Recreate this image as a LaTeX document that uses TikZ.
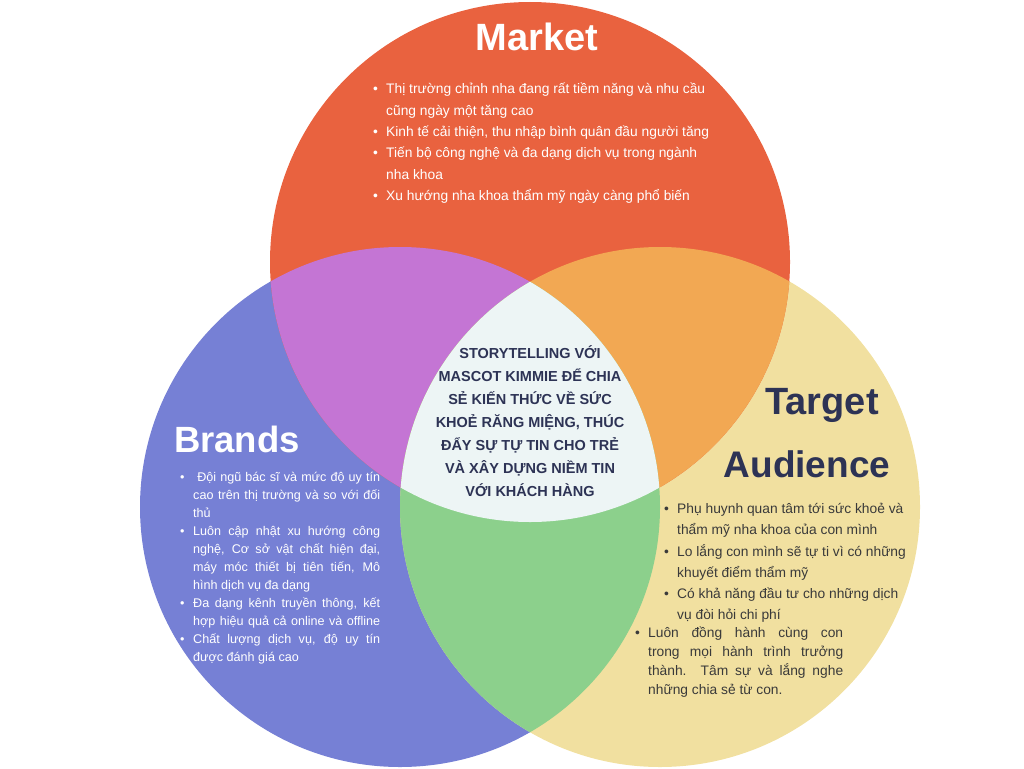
\documentclass[tikz,border=0pt]{standalone}
\usepackage{fontspec}
\setmainfont{Liberation Sans}
\definecolor{mkt}{HTML}{E9623F}
\definecolor{brd}{HTML}{7680D5}
\definecolor{tgt}{HTML}{F1E0A0}
\definecolor{mb}{HTML}{C475D4}
\definecolor{mt}{HTML}{F2A853}
\definecolor{bt}{HTML}{8CD08C}
\definecolor{ctr}{HTML}{EDF5F5}
\definecolor{navy}{HTML}{2D3355}
\definecolor{dgray}{HTML}{3A3A3A}
\newcommand{\bul}{\makebox[13pt][l]{•}}
\newcommand{\ind}{\hspace*{13pt}}
\newcommand{\jl}[1]{\makebox[#1][s]}
\begin{document}
\begin{tikzpicture}[x=1pt,y=-1pt,
  title/.style={font=\fontsize{38}{40}\selectfont\bfseries, inner sep=0pt},
  blk/.style={inner sep=0pt, align=left, anchor=north west}]
\useasboundingbox (0,0) rectangle (1024,768);
\coordinate (cM) at (530,262);
\coordinate (cB) at (400,507);
\coordinate (cT) at (660,507);
\fill[brd] (cB) circle (260pt);
\fill[tgt] (cT) circle (260pt);
\fill[mkt] (cM) circle (260pt);
\begin{scope}\clip (cM) circle (260pt); \fill[mb] (cB) circle (260pt);\end{scope}
\begin{scope}\clip (cM) circle (260pt); \fill[mt] (cT) circle (260pt);\end{scope}
\begin{scope}\clip (cB) circle (260pt); \fill[bt] (cT) circle (260pt);\end{scope}
\begin{scope}\clip (cM) circle (260pt); \clip (cB) circle (260pt); \fill[ctr] (cT) circle (260pt);\end{scope}

\node[title, white] (tM) at (537,37) {Market};
\node[title, white, font=\fontsize{36.5}{40}\selectfont\bfseries] (tB) at (237,439) {Brands};
\node[title, navy] (tT1) at (822,405) {Target};
\node[title, navy, font=\fontsize{37}{40}\selectfont\bfseries] (tT2) at (807,464) {Audience};

\node[blk, text=white, font=\fontsize{13.8}{21.3}\selectfont] (mtext) at (373,83) {%
\bul Thị trường chỉnh nha đang rất tiềm năng và nhu cầu\\
\ind cũng ngày một tăng cao\\
\bul Kinh tế cải thiện, thu nhập bình quân đầu người tăng\\
\bul Tiến bộ công nghệ và đa dạng dịch vụ trong ngành\\
\ind nha khoa\\
\bul Xu hướng nha khoa thẩm mỹ ngày càng phổ biến};

\node[inner sep=0pt, align=center, text=navy, font=\fontsize{14.5}{23}\selectfont\bfseries] (ctext) at (530,421.5) {%
STORYTELLING VỚI\\
MASCOT KIMMIE ĐỂ CHIA\\
SẺ KIẾN THỨC VỀ SỨC\\
KHOẺ RĂNG MIỆNG, THÚC\\
ĐẨY SỰ TỰ TIN CHO TRẺ\\
VÀ XÂY DỰNG NIỀM TIN\\
VỚI KHÁCH HÀNG};

\node[blk, text=white, font=\fontsize{12.6}{18}\selectfont] (btext) at (180,472) {%
\bul\jl{187pt}{\ Đội ngũ bác sĩ và mức độ uy tín}\\
\ind\jl{187pt}{cao trên thị trường và so với đối}\\
\ind thủ\\
\bul\jl{187pt}{Luôn cập nhật xu hướng công}\\
\ind\jl{187pt}{nghệ, Cơ sở vật chất hiện đại,}\\
\ind\jl{187pt}{máy móc thiết bị tiên tiến, Mô}\\
\ind hình dịch vụ đa dạng\\
\bul\jl{187pt}{Đa dạng kênh truyền thông, kết}\\
\ind\jl{187pt}{hợp hiệu quả cả online và offline}\\
\bul\jl{187pt}{Chất lượng dịch vụ, độ uy tín}\\
\ind được đánh giá cao};

\node[blk, text=dgray, font=\fontsize{13.8}{21.3}\selectfont] (ttext) at (664,503) {%
\bul Phụ huynh quan tâm tới sức khoẻ và\\
\ind thẩm mỹ nha khoa của con mình\\
\bul Lo lắng con mình sẽ tự ti vì có những\\
\ind khuyết điểm thẩm mỹ\\
\bul Có khả năng đầu tư cho những dịch\\
\ind vụ đòi hỏi chi phí};

\node[blk, text=dgray, font=\fontsize{13.8}{19}\selectfont] (ttext2) at (635,627) {%
\bul\jl{195pt}{Luôn đồng hành cùng con}\\
\ind\jl{195pt}{trong mọi hành trình trưởng}\\
\ind\jl{195pt}{thành. Tâm sự và lắng nghe}\\
\ind những chia sẻ từ con.};
\end{tikzpicture}
\end{document}
